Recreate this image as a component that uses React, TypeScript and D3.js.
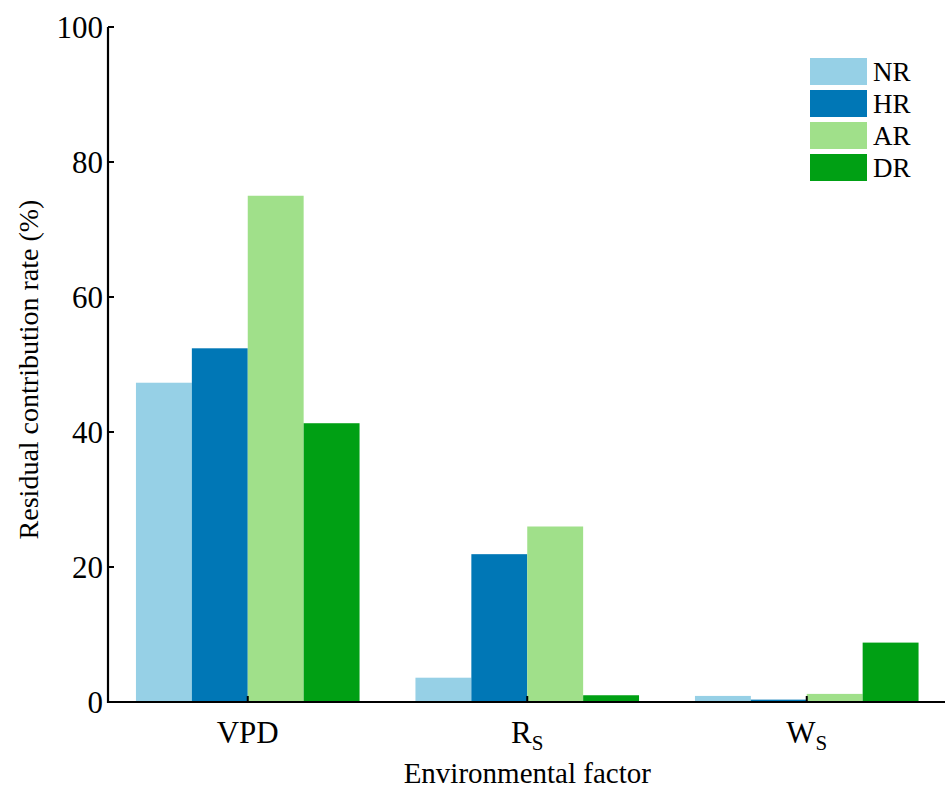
import React from "react";
import * as d3 from "d3";

const categories = ["VPD", "RS", "WS"];
const categoryLabels: [string, string][] = [["VPD", ""], ["R", "S"], ["W", "S"]];
const seriesNames = ["NR", "HR", "AR", "DR"];
const seriesColors = ["#96d0e6", "#0077b6", "#a0e08a", "#00a014"];
const NR = [47.3, 3.6, 0.9];
const HR = [52.4, 21.9, 0.35];
const AR = [75.0, 26.0, 1.2];
const DR = [41.3, 1.0, 8.8];
const seriesValues = [NR, HR, AR, DR];
const yTicks = [0, 20, 40, 60, 80, 100];

const W = 945;
const H = 789;
const left = 108;
const right = 946.5;
const top = 27;
const bottom = 702;
const font = "Liberation Serif, DejaVu Serif, serif";
const ts = { fontFamily: font };

export default function App() {
  const x = d3.scaleBand<string>().domain(categories).range([left, right]).padding(0);
  const step = x.bandwidth();
  const x1 = d3
    .scaleBand<string>()
    .domain(seriesNames)
    .range([step * 0.1, step * 0.9])
    .padding(0);
  const y = d3.scaleLinear().domain([0, 100]).range([bottom, top]);

  return (
    <div style={{ position: "absolute", left: 0, top: 0 }}>
      <svg width={W} height={H} style={{ display: "block", fontFamily: font }}>
        <rect width={W} height={H} fill="#fff" />
        {categories.map((c, ci) => (
          <g key={c}>
            {seriesNames.map((s, si) => {
              const v = seriesValues[si][ci];
              return (
                <rect
                  key={s}
                  x={(x(c) as number) + (x1(s) as number)}
                  y={y(v)}
                  width={x1.bandwidth()}
                  height={y(0) - y(v)}
                  fill={seriesColors[si]}
                />
              );
            })}
          </g>
        ))}
        {/* axes */}
        <line x1={left} x2={left} y1={top} y2={bottom + 1} stroke="#000" strokeWidth={2.2} />
        <line x1={left - 1} x2={W} y1={bottom} y2={bottom} stroke="#000" strokeWidth={2.2} />
        {yTicks.map((t) => (
          <g key={t}>
            <line x1={left} x2={left + 6} y1={y(t)} y2={y(t)} stroke="#000" strokeWidth={2} />
            <text
              x={left - 5}
              y={y(t)}
              dy="0.35em"
              textAnchor="end"
              fontSize={31}
              fill="#000"
              style={ts}
            >
              {t}
            </text>
          </g>
        ))}
        {categories.map((c, ci) => {
          const cx = (x(c) as number) + step / 2;
          const [main, sub] = categoryLabels[ci];
          return (
            <g key={c}>
              <line x1={cx} x2={cx} y1={bottom} y2={bottom - 6} stroke="#000" strokeWidth={2} />
              <text x={cx} y={743} textAnchor="middle" fontSize={31} fill="#000" style={ts}>
                {main}
                {sub && (
                  <tspan fontSize={21} dy={7}>
                    {sub}
                  </tspan>
                )}
              </text>
            </g>
          );
        })}
        <text x={(left + right) / 2} y={783} textAnchor="middle" fontSize={29} fill="#000" style={ts}>
          Environmental factor
        </text>
        <text
          transform={`translate(38, ${(top + bottom) / 2 + 5}) rotate(-90)`}
          textAnchor="middle"
          fontSize={28}
          fill="#000"
          style={ts}
        >
          Residual contribution rate (%)
        </text>
        {/* legend */}
        {seriesNames.map((s, i) => (
          <g key={s} transform={`translate(810, ${58 + i * 32})`}>
            <rect width={57} height={27} fill={seriesColors[i]} />
            <text x={63} y={13.5} dy="0.35em" fontSize={27} fill="#000" style={ts}>
              {s}
            </text>
          </g>
        ))}
      </svg>
    </div>
  );
}
